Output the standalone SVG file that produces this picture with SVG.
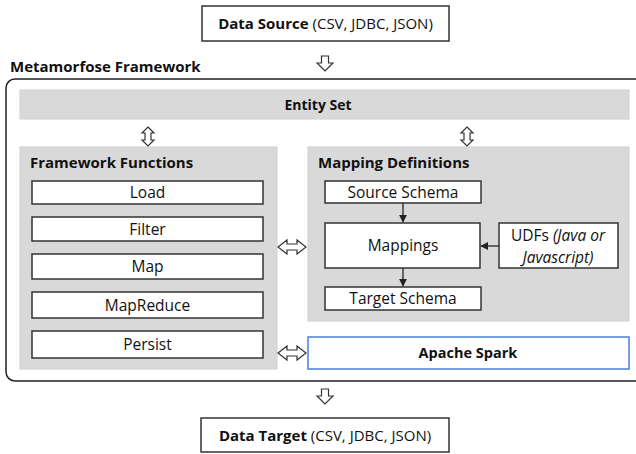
<svg xmlns="http://www.w3.org/2000/svg" width="636" height="454" viewBox="0 0 636 454">
  <style>
    text { font-family: "Open Sans", "Noto Sans", "DejaVu Sans", sans-serif; fill: #111; }
    .b { font-weight: bold; }
    .i { font-style: italic; }
    .head { font-size: 15px; font-weight: bold; }
    .body { font-size: 15.5px; }
    .t15 { font-size: 15px; }
    .panel { fill: #d9d9d9; stroke: #cfcfcf; stroke-width: 1; }
    .box { fill: #fff; stroke: #333; stroke-width: 1.5; }
    .spark { fill: #fff; stroke: #4a7fd6; stroke-width: 1.5; }
    .block { fill: #fff; stroke: #333; stroke-width: 1.2; stroke-linejoin: miter; }
    .thin { stroke: #222; stroke-width: 1.3; fill: none; }
  </style>
  <defs>
    <marker id="tip" viewBox="0 0 10 10" refX="9" refY="5" markerWidth="6" markerHeight="6" orient="auto">
      <path d="M0,0 L10,5 L0,10 Z" fill="#222"/>
    </marker>
  </defs>

  <rect width="636" height="454" fill="#fff"/>

  <!-- outer framework frame -->
  <g id="framework">
    <rect x="6" y="79" width="700" height="302" rx="9" fill="none" stroke="#222" stroke-width="1.5"/>
    <text x="10" y="72" class="b t15">Metamorfose Framework</text>
  </g>

  <g id="data-source">
    <rect x="202" y="6" width="247" height="35" class="box"/>
    <text x="325.5" y="29" text-anchor="middle" class="t15"><tspan class="b">Data Source</tspan> (CSV, JDBC, JSON)</text>
  </g>

  <g id="entity-set">
    <rect x="20" y="90" width="609" height="29" class="panel"/>
    <text x="318" y="110" text-anchor="middle" class="b" font-size="14">Entity Set</text>
  </g>

  <g id="framework-functions">
    <rect x="20" y="147" width="257" height="222" class="panel"/>
    <text x="30" y="168" class="head">Framework Functions</text>
  </g>

  <g id="fn-load">
    <rect x="32" y="181" width="231" height="23" class="box"/>
    <text x="147.5" y="198" text-anchor="middle" class="body">Load</text>
  </g>
  <g id="fn-filter">
    <rect x="32" y="217" width="231" height="24" class="box"/>
    <text x="147.5" y="234.5" text-anchor="middle" class="body">Filter</text>
  </g>
  <g id="fn-map">
    <rect x="32" y="254" width="231" height="25" class="box"/>
    <text x="147.5" y="272" text-anchor="middle" class="body">Map</text>
  </g>
  <g id="fn-mapreduce">
    <rect x="32" y="292" width="231" height="26" class="box"/>
    <text x="147.5" y="310.5" text-anchor="middle" class="body">MapReduce</text>
  </g>
  <g id="fn-persist">
    <rect x="32" y="331" width="231" height="27" class="box"/>
    <text x="147.5" y="350" text-anchor="middle" class="body">Persist</text>
  </g>

  <g id="mapping-definitions">
    <rect x="308" y="147" width="321" height="174" class="panel"/>
    <text x="318" y="168" class="head">Mapping Definitions</text>
  </g>

  <g id="source-schema">
    <rect x="325" y="181" width="156" height="22" class="box"/>
    <text x="403" y="197.5" text-anchor="middle" class="body">Source Schema</text>
  </g>
  <g id="mappings">
    <rect x="325" y="223" width="155" height="45" class="box"/>
    <text x="403" y="251" text-anchor="middle" class="body">Mappings</text>
  </g>
  <g id="target-schema">
    <rect x="325" y="287" width="156" height="23" class="box"/>
    <text x="403" y="304" text-anchor="middle" class="body">Target Schema</text>
  </g>
  <g id="udfs">
    <rect x="499" y="223" width="119" height="45" class="box"/>
    <text x="558" y="241" text-anchor="middle" class="body">UDFs <tspan class="i">(Java or</tspan></text>
    <text x="558" y="263" text-anchor="middle" class="body i">Javascript)</text>
  </g>

  <g id="apache-spark">
    <rect x="308" y="337" width="321" height="32" class="spark"/>
    <text x="468" y="358" text-anchor="middle" class="b" font-size="14.5">Apache Spark</text>
  </g>

  <g id="data-target">
    <rect x="201" y="418" width="248" height="34" class="box"/>
    <text x="325" y="441" text-anchor="middle" class="t15"><tspan class="b">Data Target</tspan> (CSV, JDBC, JSON)</text>
  </g>

  <g id="connectors">
    <!-- hollow block arrows -->
    <path class="block" d="M321.5,56 H328.5 V63 H333 L325,71 L317,63 H321.5 Z"/>
    <path class="block" d="M321.5,389 H328.5 V396 H333 L325,404 L317,396 H321.5 Z"/>
    <path class="block" d="M148,127 L154,133 H151 V140 H154 L148,146 L142,140 H145 V133 H142 Z"/>
    <path class="block" d="M467,127 L473,133 H470 V140 H473 L467,146 L461,140 H464 V133 H461 Z"/>
    <path class="block" d="M278,247 L287,240 V244 H297 V240 L306,247 L297,254 V250 H287 V254 Z"/>
    <path class="block" d="M278,353 L287,346 V350 H297 V346 L306,353 L297,360 V356 H287 V360 Z"/>
    <!-- schema flow -->
    <line class="thin" x1="403" y1="203" x2="403" y2="222" marker-end="url(#tip)"/>
    <line class="thin" x1="403" y1="268" x2="403" y2="286" marker-end="url(#tip)"/>
    <line class="thin" x1="499" y1="246" x2="481" y2="246" marker-end="url(#tip)"/>
  </g>
</svg>
